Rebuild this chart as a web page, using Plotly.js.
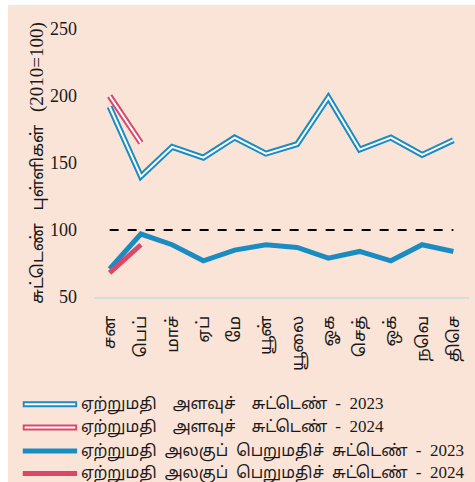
<!DOCTYPE html>
<html><head><meta charset="utf-8">
<script src="https://cdn.plot.ly/plotly-3.0.1.min.js"></script>
<style>html,body{margin:0;padding:0;background:#fff;overflow:hidden;}#chart{position:absolute;left:8px;top:5px;width:467px;height:477px;}</style>
</head><body><div id="chart"></div>
<script>
const months = ['சன','பெப்','மாச்','ஏப்','மே','யூன்','யூலை','ஓக','செத்','ஒக்','நவெ','திசெ'];
const volume2023 = [192,140,162,154,169,157,164,199,160,169,156,167];
const volume2024 = [200,165];
const unitValue2023 = [71,97,89,77,85,89,87,79,84,77,89,84];
const unitValue2024 = [68,89];
const baseLine = [100,100,100,100,100,100,100,100,100,100,100,100];
const seriesLabels = [
  'ஏற்றுமதி    அளவுச்    சுட்டெண்',
  'ஏற்றுமதி    அளவுச்    சுட்டெண்',
  'ஏற்றுமதி  அலகுப்  பெறுமதிச்  சுட்டெண்',
  'ஏற்றுமதி  அலகுப்  பெறுமதிச்  சுட்டெண்'
];
const seriesYears = ['2023', '2024', '2023', '2024'];
const yTitleWords = 'சுட்டெண்   புள்ளிகள்';
const yTitleBase = '(2010=100)';

const BLUE = '#1a8cc2', RED = '#dc4669', BG = '#fae4d8';
const FONT = 'Liberation Serif, Noto Sans Tamil, Lohit Tamil, serif';
const sp = s => s.replace(/ /g, '\u00a0');

const traces = [
  {x: months, y: baseLine, mode: 'lines', line: {color: '#000', width: 2, dash: 'dash'}},
  {x: months, y: unitValue2023, mode: 'lines', line: {color: BLUE, width: 5}},
  {x: months.slice(0, unitValue2024.length), y: unitValue2024, mode: 'lines', line: {color: RED, width: 5}},
  {x: months, y: volume2023, mode: 'lines', line: {color: BLUE, width: 6}},
  {x: months, y: volume2023, mode: 'lines', line: {color: '#ffffff', width: 2}},
  {x: months.slice(0, volume2024.length), y: volume2024, mode: 'lines', line: {color: RED, width: 6}},
  {x: months.slice(0, volume2024.length), y: volume2024, mode: 'lines', line: {color: '#ffffff', width: 2}}
];

const legendRows = [-0.40, -0.487, -0.575, -0.659];
const legendStyles = [
  {c: BLUE, dbl: true}, {c: RED, dbl: true}, {c: BLUE, dbl: false}, {c: RED, dbl: false}
];
const shapes = [], annotations = [];
legendStyles.forEach((st, i) => {
  const y = legendRows[i];
  shapes.push({type: 'line', xref: 'paper', yref: 'paper', x0: -0.19, x1: -0.045, y0: y, y1: y,
    line: {color: st.c, width: st.dbl ? 6 : 5}});
  if (st.dbl) shapes.push({type: 'line', xref: 'paper', yref: 'paper', x0: -0.185, x1: -0.05, y0: y, y1: y,
    line: {color: '#ffffff', width: 2}});
  annotations.push({xref: 'paper', yref: 'paper', x: -0.04, y: y, xanchor: 'left', yanchor: 'middle',
    text: sp(seriesLabels[i] + '  ') + '<span style="font-size:17px">' + sp('-  ' + seriesYears[i]) + '</span>',
    showarrow: false, font: {family: FONT, size: 16, color: '#1a1a1a'}});
});

const layout = {
  width: 467, height: 477,
  paper_bgcolor: BG, plot_bgcolor: BG,
  margin: {l: 86, r: 6, t: 24, b: 185},
  showlegend: false,
  font: {family: FONT, color: '#1a1a1a'},
  xaxis: {
    type: 'category', range: [-0.5, 11.5], showgrid: false, zeroline: false,
    showline: true, linecolor: '#d3dbe3', linewidth: 2,
    ticks: '', tickangle: -90, ticklabelstandoff: 10,
    tickfont: {family: FONT, size: 17, color: '#1a1a1a'}
  },
  yaxis: {
    range: [50, 250], tickvals: [50, 100, 150, 200, 250], showgrid: false, zeroline: false,
    showline: false, ticks: '', ticklabelstandoff: 16,
    tickfont: {family: FONT, size: 18, color: '#1a1a1a'},
    title: {text: sp(yTitleWords + '   ') + '<span style="font-size:19px">' + yTitleBase + '</span>',
      standoff: 2, font: {family: FONT, size: 17, color: '#1a1a1a'}}
  },
  shapes: shapes,
  annotations: annotations
};

Plotly.newPlot('chart', traces, layout, {displayModeBar: false, staticPlot: true});
</script></body></html>
